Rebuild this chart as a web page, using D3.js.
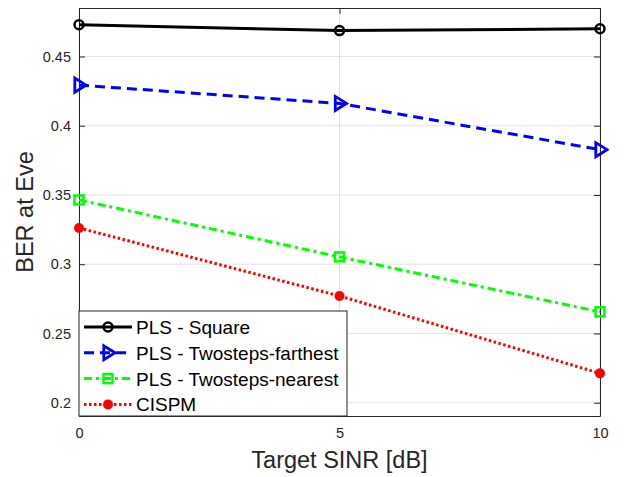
<!DOCTYPE html>
<html>
<head>
<meta charset="utf-8">
<script src="https://cdn.jsdelivr.net/npm/d3@7"></script>
<style>
body { margin: 0; background: #fff; }
svg { font-family: "Liberation Sans", Arial, sans-serif; }
</style>
</head>
<body>
<div id="chart-area"></div>
<script>
// Data
var snr = [0, 5, 10];
var berSquare = [0.4729, 0.4687, 0.4700];
var berFarthest = [0.4293, 0.4161, 0.3827];
var berNearest = [0.3464, 0.3053, 0.2656];
var berCispm = [0.3262, 0.2771, 0.2212];
var seriesNames = ["PLS - Square", "PLS - Twosteps-farthest", "PLS - Twosteps-nearest", "CISPM"];
var xTicks = [0, 5, 10];
var yTicks = [0.2, 0.25, 0.3, 0.35, 0.4, 0.45];

var series = [
	{ name: seriesNames[0], values: berSquare, color: "#000000", dash: null, marker: "circle", width: 3 },
	{ name: seriesNames[1], values: berFarthest, color: "#0000ff", dash: "10,6", marker: "triangle", width: 3 },
	{ name: seriesNames[2], values: berNearest, color: "#00ff00", dash: "8,4,3,4", marker: "square", width: 3 },
	{ name: seriesNames[3], values: berCispm, color: "#ff0000", dash: "2.5,2.5", marker: "dot", width: 3 }
];

// Canvas
var canvasWidth = 629;
var canvasHeight = 477;
var margin = {top: 8, right: 29, bottom: 61, left: 79};
var chartWidth = canvasWidth - margin.left - margin.right;
var chartHeight = canvasHeight - margin.top - margin.bottom;

var canvas = d3.select("#chart-area")
	.append("svg")
	.attr("width", canvasWidth)
	.attr("height", canvasHeight);

var chartArea = canvas.append("g")
	.attr("transform", "translate(" + margin.left + "," + margin.top + ")");

// Scales
var x = d3.scaleLinear().domain([0, 10]).range([0, chartWidth]);
var y = d3.scaleLinear().domain([0.1904, 0.485]).range([chartHeight, 0]);

// Grid
chartArea.selectAll(".ygrid").data(yTicks).enter().append("line")
	.attr("x1", 0).attr("x2", chartWidth)
	.attr("y1", function(d){ return y(d); }).attr("y2", function(d){ return y(d); })
	.attr("stroke", "#e3e3e3").attr("stroke-width", 1);
chartArea.selectAll(".xgrid").data(xTicks).enter().append("line")
	.attr("y1", 0).attr("y2", chartHeight)
	.attr("x1", function(d){ return x(d); }).attr("x2", function(d){ return x(d); })
	.attr("stroke", "#e3e3e3").attr("stroke-width", 1);

// Axes (ticks inside)
var axisColor = "#262626";
var xAxis = chartArea.append("g")
	.attr("transform", "translate(0," + chartHeight + ")")
	.call(d3.axisBottom(x).tickValues(xTicks).tickSizeInner(-6).tickSizeOuter(0).tickPadding(12).tickFormat(d3.format("d")));
var xAxisTop = chartArea.append("g")
	.call(d3.axisTop(x).tickValues(xTicks).tickSizeInner(-6).tickSizeOuter(0).tickFormat(""));
var yAxis = chartArea.append("g")
	.call(d3.axisLeft(y).tickValues(yTicks).tickSizeInner(-6).tickSizeOuter(0).tickPadding(8).tickFormat(function(d){ return d3.format("")(+d.toFixed(2)); }));
var yAxisRight = chartArea.append("g")
	.attr("transform", "translate(" + chartWidth + ",0)")
	.call(d3.axisRight(y).tickValues(yTicks).tickSizeInner(-6).tickSizeOuter(0).tickFormat(""));

[xAxis, xAxisTop, yAxis, yAxisRight].forEach(function(a){
	a.select(".domain").attr("stroke", axisColor).attr("stroke-width", 1);
	a.selectAll(".tick line").attr("stroke", axisColor);
	a.selectAll(".tick text").attr("fill", axisColor).attr("font-size", "14.5px").attr("font-family", "Liberation Sans, Arial, sans-serif");
});

// Axis labels
chartArea.append("text")
	.attr("x", chartWidth / 2)
	.attr("y", chartHeight + 52)
	.attr("text-anchor", "middle")
	.attr("font-size", "23.5px")
	.attr("fill", axisColor)
	.text("Target SINR [dB]");

chartArea.append("text")
	.attr("transform", "rotate(-90)")
	.attr("x", -chartHeight / 2)
	.attr("y", -46)
	.attr("text-anchor", "middle")
	.attr("font-size", "23.5px")
	.attr("fill", axisColor)
	.text("BER at Eve");

// Markers
function drawMarker(g, type, color, cx, cy) {
	if (type == "circle") {
		g.append("circle").attr("cx", cx).attr("cy", cy).attr("r", 4.5)
			.attr("fill", "none").attr("stroke", color).attr("stroke-width", 2.5);
	} else if (type == "triangle") {
		var s = 7;
		g.append("path")
			.attr("d", "M" + (cx + s) + "," + cy + "L" + (cx - s * 0.6) + "," + (cy - s) + "L" + (cx - s * 0.6) + "," + (cy + s) + "Z")
			.attr("fill", "none").attr("stroke", color).attr("stroke-width", 2.8);
	} else if (type == "square") {
		g.append("rect").attr("x", cx - 4.5).attr("y", cy - 4.5).attr("width", 9).attr("height", 9)
			.attr("fill", "none").attr("stroke", color).attr("stroke-width", 2.5);
	} else {
		g.append("circle").attr("cx", cx).attr("cy", cy).attr("r", 5)
			.attr("fill", color).attr("stroke", "none");
	}
}

// Lines
var line = d3.line()
	.x(function(d){ return x(d[0]); })
	.y(function(d){ return y(d[1]); });

series.forEach(function(s){
	var pts = snr.map(function(v, i){ return [v, s.values[i]]; });
	chartArea.append("path")
		.datum(pts)
		.attr("d", line)
		.attr("fill", "none")
		.attr("stroke", s.color)
		.attr("stroke-width", s.width)
		.attr("stroke-dasharray", s.dash);
	var mg = chartArea.append("g");
	pts.forEach(function(p){
		drawMarker(mg, s.marker, s.color, x(p[0]), y(p[1]));
	});
});

// Legend
var legend = chartArea.append("g")
	.attr("transform", "translate(0," + (chartHeight - 105) + ")");

legend.append("rect")
	.attr("x", 0).attr("y", 0)
	.attr("width", 268).attr("height", 105)
	.attr("fill", "#ffffff")
	.attr("stroke", axisColor)
	.attr("stroke-width", 1);

series.forEach(function(s, i){
	var ly = 16 + i * 25.8;
	var row = legend.append("g");
	row.append("line")
		.attr("x1", 5).attr("x2", 53)
		.attr("y1", ly).attr("y2", ly)
		.attr("stroke", s.color)
		.attr("stroke-width", s.width)
		.attr("stroke-dasharray", s.dash);
	drawMarker(row, s.marker, s.color, 29, ly);
	row.append("text")
		.attr("x", 57)
		.attr("y", ly + 7)
		.attr("font-size", "19px")
		.attr("fill", "#000")
		.text(s.name);
});
</script>
</body>
</html>
